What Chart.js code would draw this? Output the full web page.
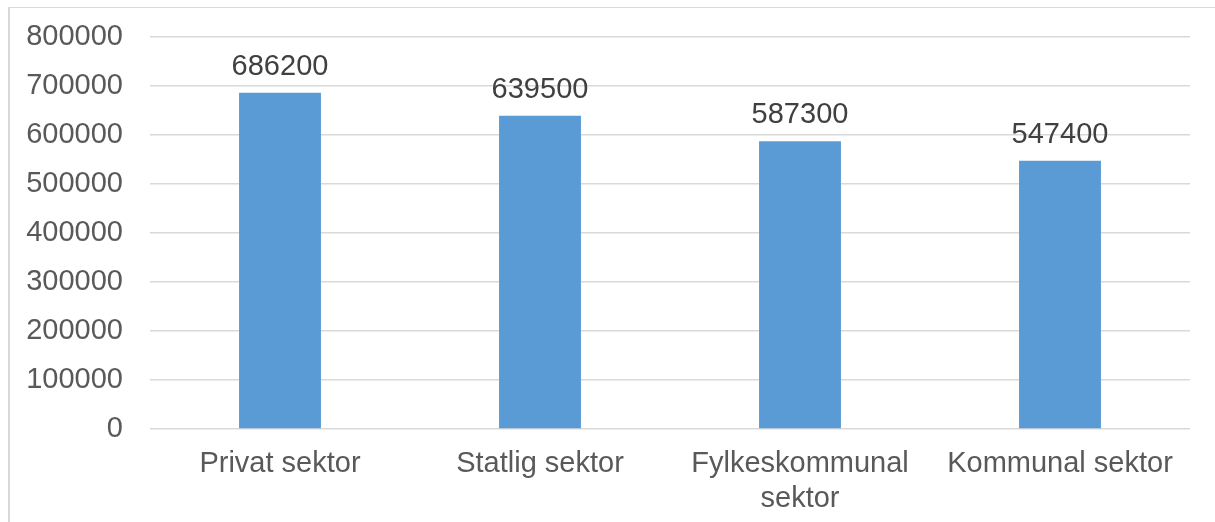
<!DOCTYPE html>
<html>
<head>
<meta charset="utf-8">
<script src="https://cdn.jsdelivr.net/npm/chart.js@4"></script>
<style>
  html, body { margin: 0; padding: 0; background: #fff; }
  #wrap { position: relative; width: 1215px; height: 522px; overflow: hidden; }
  #frame { position: absolute; left: 8px; top: 7px; width: 1300px; height: 600px; border-left: 2px solid #d9d9d9; border-top: 1px solid #d9d9d9; box-sizing: border-box; }
  canvas { position: absolute; left: 0; top: 0; }
</style>
</head>
<body>
<div id="wrap">
  <div id="frame"></div>
  <canvas id="c" width="1215" height="522"></canvas>
</div>
<script>
const categories = ["Privat sektor", "Statlig sektor", ["Fylkeskommunal", "sektor"], "Kommunal sektor"];
const values = [686200, 639500, 587300, 547400];
const yTicks = [0, 100000, 200000, 300000, 400000, 500000, 600000, 700000, 800000];

const FONT = "'Liberation Sans', Arial, sans-serif";
const GREY = "#595959";

const valueLabels = {
  id: "valueLabels",
  afterDatasetsDraw(chart) {
    const ctx = chart.ctx;
    const meta = chart.getDatasetMeta(0);
    ctx.save();
    ctx.font = "29px " + FONT;
    ctx.fillStyle = "#404040";
    ctx.textAlign = "center";
    ctx.textBaseline = "alphabetic";
    meta.data.forEach((bar, i) => {
      ctx.fillText(String(values[i]), bar.x, bar.y - 18);
    });
    ctx.restore();
  }
};

new Chart(document.getElementById("c"), {
  type: "bar",
  data: {
    labels: categories,
    datasets: [{
      data: values,
      backgroundColor: "#5b9bd5",
      borderWidth: 0,
      categoryPercentage: 1,
      barPercentage: 0.315
    }]
  },
  options: {
    responsive: false,
    maintainAspectRatio: false,
    animation: false,
    devicePixelRatio: 1,
    layout: { padding: { left: 0, right: 25, top: 37, bottom: 0 } },
    plugins: { legend: { display: false }, tooltip: { enabled: false } },
    scales: {
      x: {
        grid: { display: false },
        border: { display: false },
        ticks: {
          color: GREY,
          font: { family: FONT, size: 29, lineHeight: 1.2 },
          padding: 10,
          maxRotation: 0,
          autoSkip: false
        },
        afterFit(scale) { scale.height = 93; }
      },
      y: {
        min: 0,
        max: 800000,
        afterBuildTicks(scale) { scale.ticks = yTicks.map(v => ({ value: v })); },
        grid: { color: "#d9d9d9", lineWidth: 1.5, drawTicks: false },
        border: { display: false },
        ticks: {
          color: GREY,
          font: { family: FONT, size: 29 },
          padding: 27,
          callback: v => String(v)
        },
        afterFit(scale) { scale.width = 150; scale.paddingTop = 0; scale.paddingBottom = 0; }
      }
    }
  },
  plugins: [valueLabels]
});
</script>
</body>
</html>
